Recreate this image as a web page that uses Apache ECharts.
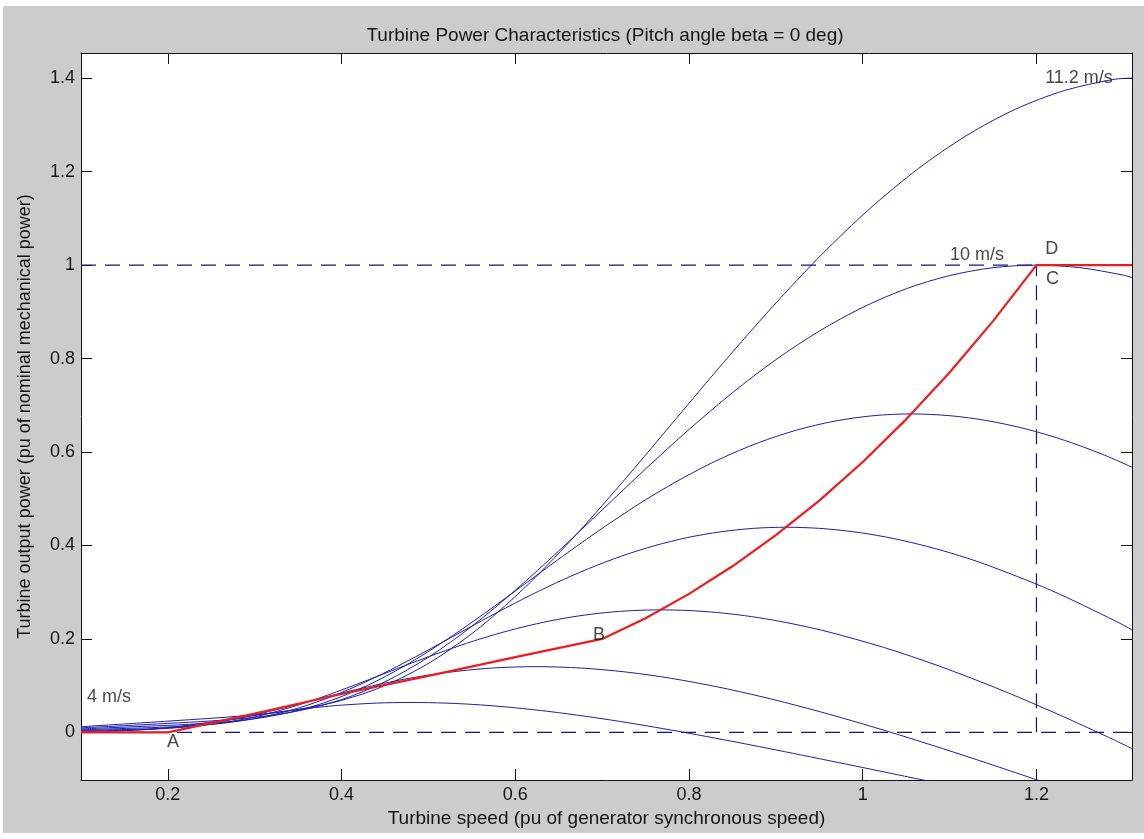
<!DOCTYPE html>
<html>
<head>
<meta charset="utf-8">
<script src="https://cdn.jsdelivr.net/npm/echarts@6/dist/echarts.min.js"></script>
<style>
html,body{margin:0;padding:0;background:#ffffff;width:1144px;height:839px;overflow:hidden;}
#chart{position:absolute;left:3px;top:6px;width:1141px;height:827px;}
</style>
</head>
<body>
<div id="chart"></div>
<script>
// ---- axis ranges & ticks ----
const xRange = [0.1, 1.31];
const yRange = [-0.102, 1.454];
const xTicks = [0.2, 0.4, 0.6, 0.8, 1, 1.2];
const yTicks = [0, 0.2, 0.4, 0.6, 0.8, 1, 1.2, 1.4];

// ---- turbine power curves [speed, power] for each wind speed ----
const curve4 = [[0.1,0.0016],[0.12,0.0021],[0.14,0.0029],[0.16,0.0045],[0.18,0.0069],[0.2,0.0103],[0.22,0.0145],[0.24,0.0195],[0.26,0.0248],[0.28,0.0305],[0.3,0.0361],[0.32,0.0415],[0.34,0.0465],[0.36,0.0511],[0.38,0.055],[0.4,0.0582],[0.44,0.0626],[0.48,0.064],[0.52,0.0626],[0.56,0.0587],[0.6,0.0525],[0.64,0.0444],[0.68,0.0346],[0.72,0.0235],[0.76,0.0112],[0.8,-0.002],[0.84,-0.0158],[0.88,-0.0302],[0.92,-0.045],[0.96,-0.0601],[1.0,-0.0753],[1.04,-0.0907],[1.08,-0.106]];
const curve52 = [[0.1,0.0026],[0.13,0.0034],[0.156,0.0045],[0.182,0.0065],[0.208,0.0099],[0.234,0.0152],[0.26,0.0226],[0.286,0.0319],[0.312,0.0427],[0.338,0.0546],[0.364,0.0669],[0.39,0.0793],[0.416,0.0911],[0.442,0.1022],[0.468,0.1122],[0.494,0.1208],[0.52,0.1279],[0.572,0.1375],[0.624,0.1406],[0.676,0.1376],[0.728,0.129],[0.78,0.1154],[0.832,0.0976],[0.884,0.0761],[0.936,0.0516],[0.988,0.0246],[1.04,-0.0043],[1.092,-0.0348],[1.144,-0.0664],[1.196,-0.0989],[1.248,-0.132]];
const curve64 = [[0.1,0.0039],[0.128,0.005],[0.16,0.0064],[0.192,0.0084],[0.224,0.012],[0.256,0.0184],[0.288,0.0284],[0.32,0.0422],[0.352,0.0595],[0.384,0.0797],[0.416,0.1018],[0.448,0.1248],[0.48,0.1478],[0.512,0.1699],[0.544,0.1906],[0.576,0.2091],[0.608,0.2251],[0.64,0.2385],[0.672,0.2489],[0.704,0.2563],[0.736,0.2607],[0.768,0.2621],[0.8,0.2607],[0.832,0.2565],[0.864,0.2498],[0.896,0.2405],[0.928,0.2289],[0.96,0.2152],[1.024,0.1819],[1.088,0.1418],[1.152,0.0962],[1.216,0.0459],[1.28,-0.008],[1.31,-0.0347]];
const curve76 = [[0.1,0.0055],[0.114,0.0063],[0.152,0.0084],[0.19,0.0107],[0.228,0.0141],[0.266,0.0201],[0.304,0.0308],[0.342,0.0475],[0.38,0.0706],[0.418,0.0997],[0.456,0.1335],[0.494,0.1704],[0.532,0.209],[0.57,0.2475],[0.608,0.2845],[0.646,0.3191],[0.684,0.3501],[0.722,0.377],[0.76,0.3993],[0.798,0.4168],[0.836,0.4291],[0.874,0.4366],[0.912,0.439],[0.95,0.4366],[0.988,0.4296],[1.026,0.4183],[1.064,0.4027],[1.102,0.3834],[1.14,0.3604],[1.216,0.3046],[1.292,0.2374],[1.31,0.2193]];
const curve88 = [[0.1,0.0074],[0.132,0.0098],[0.176,0.0131],[0.22,0.0167],[0.264,0.0219],[0.308,0.0313],[0.352,0.0478],[0.396,0.0737],[0.44,0.1096],[0.484,0.1547],[0.528,0.2072],[0.572,0.2646],[0.616,0.3245],[0.66,0.3842],[0.704,0.4417],[0.748,0.4954],[0.792,0.5435],[0.836,0.5853],[0.88,0.6199],[0.924,0.647],[0.968,0.6662],[1.012,0.6777],[1.056,0.6815],[1.1,0.6778],[1.144,0.6669],[1.188,0.6493],[1.232,0.6252],[1.276,0.5951],[1.31,0.5675]];
const curve10 = [[0.1,0.0096],[0.15,0.0143],[0.2,0.0192],[0.25,0.0244],[0.3,0.0321],[0.35,0.0459],[0.4,0.0702],[0.45,0.1082],[0.5,0.1608],[0.55,0.227],[0.6,0.304],[0.65,0.3882],[0.7,0.4761],[0.75,0.5638],[0.8,0.6482],[0.85,0.7269],[0.9,0.7976],[0.95,0.8588],[1.0,0.9096],[1.05,0.9494],[1.1,0.9776],[1.15,0.9945],[1.2,1.0],[1.25,0.9946],[1.3,0.9786],[1.31,0.9734]];
const curve112 = [[0.1,0.012],[0.168,0.0201],[0.224,0.0269],[0.28,0.0343],[0.336,0.0451],[0.392,0.0645],[0.448,0.0986],[0.504,0.152],[0.56,0.2259],[0.616,0.3189],[0.672,0.4271],[0.728,0.5454],[0.784,0.6689],[0.84,0.7921],[0.896,0.9107],[0.952,1.0212],[1.008,1.1206],[1.064,1.2066],[1.12,1.2779],[1.176,1.3338],[1.232,1.3735],[1.288,1.3972],[1.31,1.4003]];

// ---- tracking characteristic A-B-C-D ----
const tracking = [[0.1,0],[0.2,0],[0.3,0.04],[0.4,0.082],[0.5,0.121],[0.6,0.161],[0.7,0.2],[0.75,0.2441],[0.8,0.2963],[0.85,0.3554],[0.9,0.4219],[0.95,0.4961],[1.0,0.5787],[1.05,0.6699],[1.1,0.7703],[1.15,0.8801],[1.2,1.0],[1.31,1.0]];

// ---- dashed reference lines ----
const refOne = [[0.1,1],[1.31,1]];
const refZero = [[0.1,0],[1.31,0]];
const refVert = [[1.2,0],[1.2,1]];

// ---- text annotations ----
const noteText = ['4 m/s','A','B','10 m/s','D','C','11.2 m/s'];
const noteX = [0.107, 0.199, 0.6895, 1.1005, 1.21, 1.211, 1.21];
const noteY = [0.0757, -0.0207, 0.2084, 1.0217, 1.0345, 0.970, 1.4005];

const FONT = '"Liberation Sans", Arial, Helvetica, sans-serif';
const TXT = '#151515';
const BLUE = '#1e1ea8';
const DASH = '#14148a';
const RED = '#ee1c1c';

const chart = echarts.init(document.getElementById('chart'), null, {renderer:'canvas'});

function blueSeries(data){
  return {type:'line', data:data, xAxisIndex:0, yAxisIndex:0, showSymbol:false, symbol:'none',
    smooth:0.3, lineStyle:{color:BLUE, width:1}, silent:true, z:3, animation:false};
}
function dashSeries(data){
  return {type:'line', data:data, xAxisIndex:0, yAxisIndex:0, symbol:'none',
    lineStyle:{color:DASH, width:1.2, type:[15,9]}, silent:true, z:2, animation:false};
}

const axisLineStyle = {color:'#111', width:1};
const tickStyle = {color:'#111', width:1};

const option = {
  backgroundColor:'#cccccc',
  animation:false,
  textStyle:{fontFamily:FONT},
  title:{
    text:'Turbine Power Characteristics (Pitch angle beta = 0 deg)',
    left:597, top:15, textAlign:'center',
    textStyle:{fontSize:19, fontWeight:'normal', color:TXT, fontFamily:FONT}
  },
  grid:{left:78, top:47, width:1051, height:727, show:true, backgroundColor:'#ffffff', borderWidth:0},
  xAxis:[
    {type:'value', min:xRange[0], max:xRange[1], position:'bottom',
     axisLine:{show:true, onZero:false, lineStyle:axisLineStyle},
     axisTick:{show:true, inside:true, length:11, customValues:xTicks, lineStyle:tickStyle},
     axisLabel:{show:true, customValues:xTicks, fontSize:18, color:TXT, margin:6, fontFamily:FONT},
     splitLine:{show:false},
     name:'Turbine speed (pu of generator synchronous speed)', nameLocation:'middle', nameGap:27,
     nameTextStyle:{fontSize:19, color:TXT, fontFamily:FONT}},
    {type:'value', min:xRange[0], max:xRange[1], position:'top',
     axisLine:{show:true, onZero:false, lineStyle:axisLineStyle},
     axisTick:{show:true, inside:true, length:11, customValues:xTicks, lineStyle:tickStyle},
     axisLabel:{show:false}, splitLine:{show:false}}
  ],
  yAxis:[
    {type:'value', min:yRange[0], max:yRange[1], position:'left',
     axisLine:{show:true, onZero:false, lineStyle:axisLineStyle},
     axisTick:{show:true, inside:true, length:11, customValues:yTicks, lineStyle:tickStyle},
     axisLabel:{show:true, customValues:yTicks, fontSize:18, color:TXT, margin:6, fontFamily:FONT},
     splitLine:{show:false},
     name:'Turbine output power (pu of nominal mechanical power)', nameLocation:'middle', nameGap:47, nameRotate:90,
     nameTextStyle:{fontSize:18, color:TXT, fontFamily:FONT}},
    {type:'value', min:yRange[0], max:yRange[1], position:'right',
     axisLine:{show:true, onZero:false, lineStyle:axisLineStyle},
     axisTick:{show:true, inside:true, length:11, customValues:yTicks, lineStyle:tickStyle},
     axisLabel:{show:false}, splitLine:{show:false}}
  ],
  series:[
    dashSeries(refOne), dashSeries(refZero), dashSeries(refVert),
    blueSeries(curve4), blueSeries(curve52), blueSeries(curve64), blueSeries(curve76),
    blueSeries(curve88), blueSeries(curve10), blueSeries(curve112),
    {type:'line', data:tracking, xAxisIndex:0, yAxisIndex:0, symbol:'none', smooth:false,
     lineStyle:{color:RED, width:2.2}, silent:true, z:4, animation:false},
    {type:'scatter', xAxisIndex:0, yAxisIndex:0, symbolSize:0, silent:true, z:6, animation:false,
     data: noteText.map((t,i)=>({value:[noteX[i], noteY[i]], name:t})),
     label:{show:true, position:[0,0], align:'left', verticalAlign:'middle',
       formatter:(p)=>p.name, fontSize:18, color:TXT, fontFamily:FONT}}
  ]
};
chart.setOption(option);
</script>
</body>
</html>
